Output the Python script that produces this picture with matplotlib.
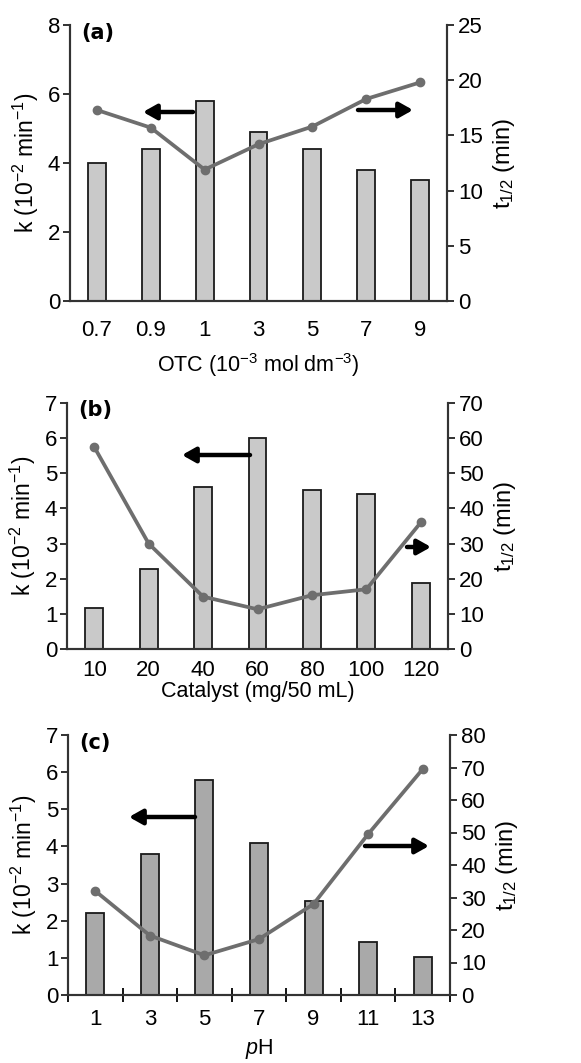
import numpy as np
import matplotlib
matplotlib.use('Agg')
import matplotlib.pyplot as plt

plt.rcParams['font.family'] = ['Liberation Sans', 'DejaVu Sans']
plt.rcParams['mathtext.fontset'] = 'custom'
plt.rcParams['mathtext.rm'] = 'Liberation Sans'
plt.rcParams['mathtext.it'] = 'Liberation Sans:italic'
plt.rcParams['mathtext.bf'] = 'Liberation Sans:bold'

# panel (a)
otc_labels = ['0.7', '0.9', '1', '3', '5', '7', '9']
otc_k = [4.0, 4.4, 5.8, 4.9, 4.4, 3.8, 3.5]
otc_t = [17.3, 15.7, 11.9, 14.2, 15.8, 18.3, 19.8]

# panel (b)
cat_labels = ['10', '20', '40', '60', '80', '100', '120']
cat_k = [1.18, 2.28, 4.6, 6.0, 4.52, 4.42, 1.88]
cat_t = [57.5, 30.0, 14.9, 11.3, 15.3, 17.0, 36.0]

# panel (c)
ph_labels = ['1', '3', '5', '7', '9', '11', '13']
ph_k = [2.2, 3.8, 5.8, 4.1, 2.52, 1.44, 1.02]
ph_t = [32.0, 18.3, 12.2, 17.2, 28.0, 49.5, 69.5]

W, H = 581, 1063
fig = plt.figure(figsize=(W/100, H/100), dpi=100)

panels = [
    # label, xlabels, k, t, kmax, tmax, tstep, xlabel, bar color, box px (l, r, top, bottom), arrows, xticks, kstep, pads
    ('(a)', otc_labels, otc_k, otc_t, 8, 25, 5, 'OTC (10$^{-3}$ mol dm$^{-3}$)', '#c9c9c9',
     (70, 447, 25, 301), [(193, 143, 112), (358, 413, 110)], False, 2, (14, 7)),
    ('(b)', cat_labels, cat_k, cat_t, 7, 70, 10, 'Catalyst (mg/50 mL)', '#c9c9c9',
     (67, 448, 403, 649), [(250, 182, 455), (407, 431, 547)], False, 1, (8, 0)),
    ('(c)', ph_labels, ph_k, ph_t, 7, 80, 10, '$p$H', '#a9a9a9',
     (68, 450, 735, 995), [(195, 129, 817), (365, 429, 846)], True, 1, (10, 5)),
]

for lab, xl, k, t, kmax, tmax, tstep, xlabel, bc, box, arrows, xt, kstep, pads in panels:
    l, r, top, bot = box
    ax = fig.add_axes([l/W, 1-bot/H, (r-l)/W, (bot-top)/H])
    x = np.arange(len(xl))
    ax.bar(x, k, width=0.33, color=bc, edgecolor='#1a1a1a', linewidth=1.3, zorder=2)
    ax.set_xlim(-0.5, len(xl)-0.5)
    ax.set_ylim(0, kmax)
    ax.set_yticks(np.arange(0, kmax+0.1, kstep))
    ax.set_xticks(x)
    ax.set_xticklabels(xl)
    ax.tick_params(axis='both', labelsize=16, colors='#222222', labelcolor='black')
    ax.tick_params(axis='y', direction='out', length=5, width=1.3, pad=2)
    if xt:
        ax.set_xticks(np.arange(-0.5, len(xl), 1.0), minor=True)
        ax.tick_params(axis='x', which='major', length=0, pad=pads[0])
        ax.tick_params(axis='x', which='minor', direction='inout', length=10, width=1.3)
    else:
        ax.tick_params(axis='x', length=0, pad=pads[0])
    for s in ['left', 'right', 'bottom']:
        ax.spines[s].set_linewidth(1.5)
        ax.spines[s].set_color('#333333')
    ax.spines['top'].set_visible(False)
    ax.set_ylabel('k (10$^{-2}$ min$^{-1}$)', fontsize=16.5, labelpad=5)
    ax.set_xlabel(xlabel, fontsize=15.5, labelpad=pads[1])
    ax.text(0.03, 0.97, lab, transform=ax.transAxes, fontsize=15, fontweight='heavy',
            family='DejaVu Sans', va='center', ha='left')

    ax2 = ax.twinx()
    ax2.plot(x, t, '-o', color='#6e6e6e', lw=2.7, ms=6, zorder=3)
    ax2.set_ylim(0, tmax)
    ax2.set_yticks(np.arange(0, tmax+1, tstep))
    ax2.tick_params(axis='y', direction='out', length=5, width=1.3, labelsize=16, pad=3,
                    colors='#222222', labelcolor='black')
    for s in ['left', 'right', 'bottom']:
        ax2.spines[s].set_linewidth(1.5)
        ax2.spines[s].set_color('#333333')
    ax2.spines['top'].set_visible(False)
    ax2.set_ylabel('t$_{1/2}$ (min)', fontsize=17, labelpad=6)

    for x0, x1, yp in arrows:
        fig.patches.append(matplotlib.patches.FancyArrowPatch(
            (x0/W, 1-yp/H), (x1/W, 1-yp/H), transform=fig.transFigure,
            arrowstyle='-|>,head_length=8,head_width=4.5', lw=3.2, color='black',
            mutation_scale=1, shrinkA=0, shrinkB=0))

fig.savefig('out.png', dpi=100)
